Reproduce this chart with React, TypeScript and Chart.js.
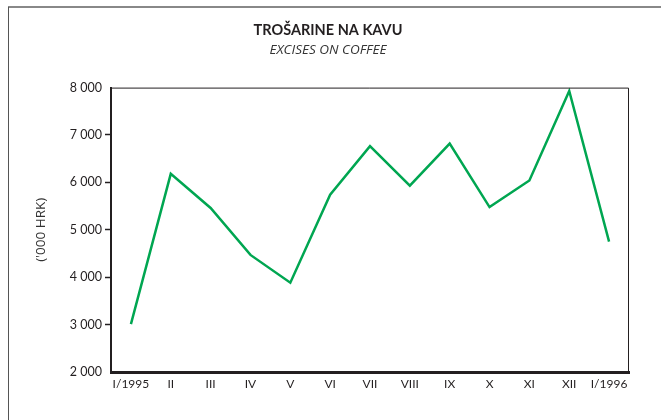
import React, { useEffect, useRef } from "react";
import { Chart, registerables } from "chart.js";

Chart.register(...registerables);

const categories = ["I/1995", "II", "III", "IV", "V", "VI", "VII", "VIII", "IX", "X", "XI", "XII", "I/1996"];
const excises = [3010, 6180, 5460, 4470, 3885, 5740, 6765, 5930, 6820, 5480, 6040, 7930, 4750];
const yTicks = [2000, 3000, 4000, 5000, 6000, 7000, 8000];
const titleText = "TROŠARINE NA KAVU";
const subtitleText = "EXCISES ON COFFEE";
const yTitle = "('000 HRK)";

const FONT = "Lato, 'Open Sans', sans-serif";
const DARK = "#231f20";

const framePlugin = {
  id: "framePlugin",
  beforeDraw(chart: any) {
    const ctx = chart.ctx;
    ctx.save();
    ctx.strokeStyle = "#888888";
    ctx.lineWidth = 2;
    ctx.beginPath();
    ctx.moveTo(8, 7);
    ctx.lineTo(chart.width, 7);
    ctx.stroke();
    ctx.strokeStyle = "#555555";
    ctx.lineWidth = 1;
    ctx.beginPath();
    ctx.moveTo(8.5, 7);
    ctx.lineTo(8.5, chart.height);
    ctx.stroke();
    ctx.restore();
  },
  afterDatasetsDraw(chart: any) {
    const { ctx, chartArea } = chart;
    ctx.save();
    ctx.strokeStyle = DARK;
    ctx.lineWidth = 1;
    ctx.beginPath();
    ctx.moveTo(chartArea.left, chartArea.top + 0.5);
    ctx.lineTo(chartArea.right - 0.5, chartArea.top + 0.5);
    ctx.lineTo(chartArea.right - 0.5, chartArea.bottom);
    ctx.stroke();
    ctx.restore();
  },
};

export default function App() {
  const ref = useRef<HTMLCanvasElement | null>(null);
  useEffect(() => {
    document.body.style.margin = "0";
    if (!ref.current) return;
    const chart = new Chart(ref.current, {
      type: "line",
      data: {
        labels: categories,
        datasets: [
          {
            data: excises,
            borderColor: "#00a651",
            borderWidth: 2.5,
            pointRadius: 0,
            tension: 0,
            fill: false,
            yAxisID: "y",
          },
        ],
      },
      options: {
        responsive: false,
        animation: false,
        layout: { padding: { top: 0, right: 5, bottom: 0, left: 0 } },
        plugins: {
          legend: { display: false },
          tooltip: { enabled: false },
          title: {
            display: true,
            text: titleText,
            color: DARK,
            font: { family: FONT, size: 14.5, weight: "bold" },
            padding: { top: 22, bottom: 2 },
          },
          subtitle: {
            display: true,
            text: subtitleText,
            color: "#333333",
            font: { family: "'Open Sans', sans-serif", size: 13.5, style: "italic", weight: "normal" },
            padding: { top: 1, bottom: 29 },
          },
        },
        scales: {
          x: {
            offset: true,
            grid: { display: false, drawTicks: false },
            border: { display: true, color: DARK, width: 3 },
            ticks: {
              color: DARK,
              font: { family: FONT, size: 12 },
              padding: 5,
              maxRotation: 0,
              autoSkip: false,
            },
            afterFit: (s: any) => {
              s.height = 48;
            },
          },
          y: {
            min: 2000,
            max: 8000,
            afterBuildTicks: (s: any) => {
              s.ticks = yTicks.map((v) => ({ value: v }));
            },
            grid: {
              drawOnChartArea: false,
              drawTicks: true,
              tickLength: 6,
              tickWidth: 1.5,
              tickColor: (c: any) =>
                c.tick && (c.tick.value === 2000 || c.tick.value === 8000) ? "rgba(0,0,0,0)" : DARK,
            },
            border: { display: true, color: DARK, width: 2 },
            ticks: {
              color: DARK,
              font: { family: FONT, size: 12.5 },
              padding: 3,
              callback: (v: any) => String(v).replace(/\B(?=(\d{3})+(?!\d))/g, " "),
            },
            title: {
              display: true,
              text: yTitle,
              color: "#333333",
              font: { family: "'Open Sans', sans-serif", size: 13.5 },
              padding: { top: 33, bottom: 0 },
            },
            afterFit: (s: any) => {
              s.width = 111;
            },
          },
          yRight: {
            position: "right",
            min: 2000,
            max: 8000,
            grid: { display: false, drawTicks: false },
            border: { display: false },
            ticks: { display: false },
            afterFit: (s: any) => {
              s.width = 27;
            },
          },
        },
      },
      plugins: [framePlugin],
    });
    return () => chart.destroy();
  }, []);
  return <canvas ref={ref} width={661} height={420} style={{ display: "block" }} />;
}
